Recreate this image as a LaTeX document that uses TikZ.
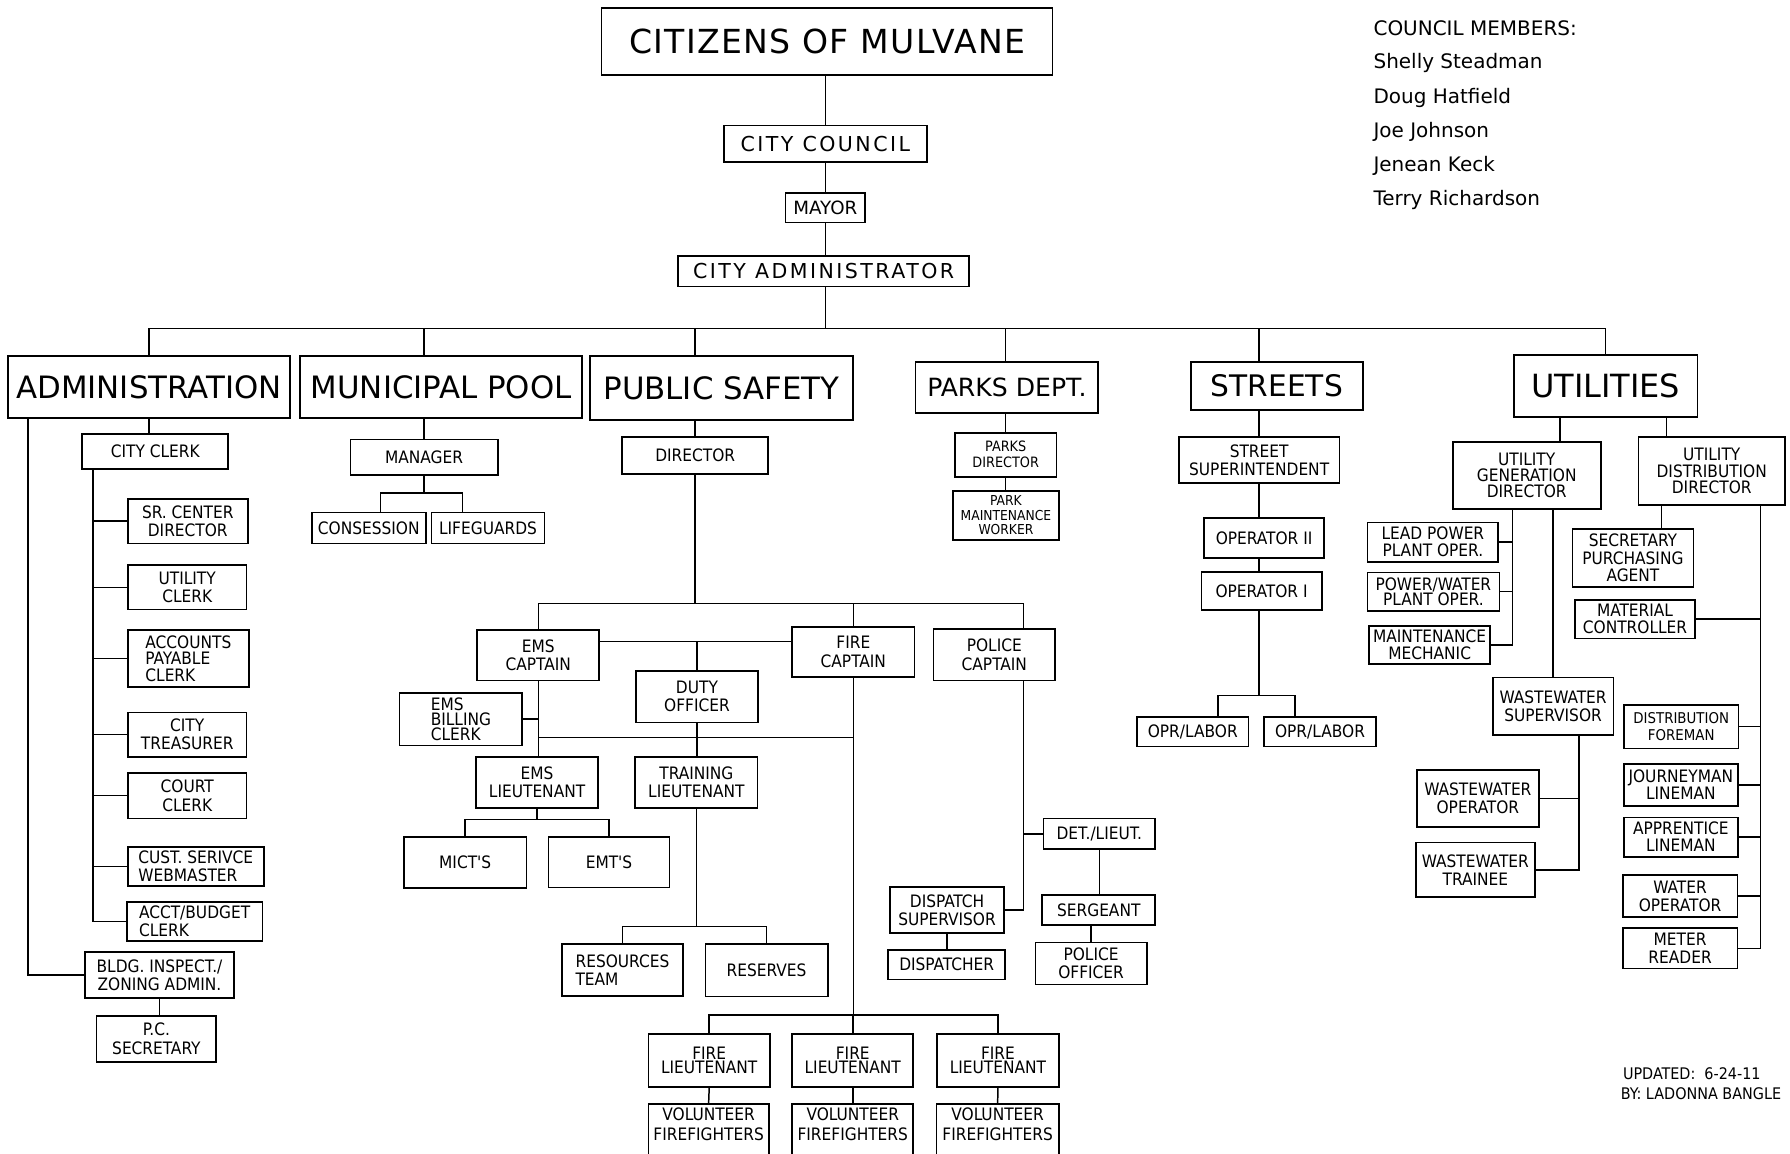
\documentclass[tikz,border=0pt]{standalone}
\usepackage{fontspec}
\setmainfont{DejaVu Sans}
\newfontfamily\narrowfont{DejaVu Sans Condensed}
\usepackage{tikz}

\begin{document}
\begin{tikzpicture}[x=1pt, y=-1pt,
        box/.style={draw, line width=1.5pt, inner sep=0pt, align=center},
        dept/.style={box, font=\fontsize{27}{30}\selectfont},
        head/.style={box, font=\fontsize{18}{20}\selectfont\addfontfeatures{LetterSpace=12}},
        job/.style={box, font=\narrowfont\fontsize{15}{16}\selectfont},
        tight/.style={font=\narrowfont\fontsize{15}{#1}\selectfont},
        link/.style={line width=1.3pt},
        note/.style={inner sep=0pt, anchor=west}]
    \useasboundingbox (0,0) rectangle (1568,1010);

    % top of the chart
    \node[box, font=\fontsize{29}{32}\selectfont\addfontfeatures{LetterSpace=4}, minimum width=395, minimum height=59] (citizens) at (724.5,36.5) {CITIZENS OF MULVANE};
    \node[head, minimum width=178, minimum height=32] (council) at (723,126) {CITY COUNCIL};
    \node[head, font=\fontsize{16}{18}\selectfont, minimum width=70, minimum height=26] (mayor) at (723,182) {MAYOR};
    \node[head, minimum width=255, minimum height=27] (cityadmin) at (721.5,237.5) {CITY ADMINISTRATOR};

    \node[note, font=\fontsize{17.5}{20}\selectfont] (members) at (1203,24.8) {COUNCIL MEMBERS:};
    \foreach \who [count=\i] in {Shelly Steadman, Doug Hatfield, Joe Johnson, Jenean Keck, Terry Richardson}
        \node[note, font=\fontsize{17.5}{20}\selectfont] (member\i) at (1203,25.5+30*\i) {\who};

    % departments
    \node[dept, minimum width=247, minimum height=54] (admin) at (130.5,339) {ADMINISTRATION};
    \node[dept, minimum width=247, minimum height=54] (pool) at (386.5,339) {MUNICIPAL POOL};
    \node[dept, minimum width=230, minimum height=56] (safety) at (632,340) {PUBLIC SAFETY};
    \node[dept, font=\fontsize{22}{24}\selectfont, minimum width=160, minimum height=45] (parks) at (882,339.5) {PARKS DEPT.};
    \node[dept, font=\fontsize{26}{28}\selectfont, minimum width=151, minimum height=42] (streets) at (1118.5,338) {STREETS};
    \node[dept, font=\fontsize{28}{30}\selectfont, minimum width=161, minimum height=54] (utilities) at (1406.5,338) {UTILITIES};

    % administration
    \node[job, minimum width=128, minimum height=31] (cityclerk) at (136,395.5) {CITY CLERK};
    \node[job, minimum width=105, minimum height=39] (srcenter) at (164.5,456.5) {SR. CENTER\\DIRECTOR};
    \node[job, minimum width=104, minimum height=39] (utilclerk) at (164,514.5) {UTILITY\\CLERK};
    \node[job, tight=14.6, align=left, minimum width=106, minimum height=50] (acctpay) at (165,577) {ACCOUNTS\\PAYABLE\\CLERK};
    \node[job, minimum width=104, minimum height=39] (treasurer) at (164,643.5) {CITY\\TREASURER};
    \node[job, minimum width=104, minimum height=40] (courtclerk) at (164,697) {COURT\\CLERK};
    \node[job, align=left, minimum width=119, minimum height=34] (custserv) at (171.5,759) {CUST. SERIVCE\\WEBMASTER};
    \node[job, align=left, minimum width=119, minimum height=34] (acctbudget) at (170.5,807) {ACCT/BUDGET\\CLERK};
    \node[job, minimum width=130.5, minimum height=40.5] (bldg) at (139.75,854.25) {BLDG. INSPECT./\\ZONING ADMIN.};
    \node[job, minimum width=105, minimum height=40] (pcsec) at (137,910) {P.C.\\SECRETARY};

    % municipal pool
    \node[job, minimum width=129, minimum height=31] (manager) at (371.5,400.5) {MANAGER};
    \node[job, minimum width=100, minimum height=27] (consession) at (323,462.5) {CONSESSION};
    \node[job, minimum width=99, minimum height=27] (lifeguards) at (427.5,462.5) {LIFEGUARDS};

    % public safety
    \node[job, minimum width=128, minimum height=32] (director) at (609,399) {DIRECTOR};
    \node[job, minimum width=107, minimum height=44] (emscapt) at (471.5,574) {EMS\\CAPTAIN};
    \node[job, minimum width=107, minimum height=44] (firecapt) at (747.5,571) {FIRE\\CAPTAIN};
    \node[job, minimum width=106.5, minimum height=45] (policecapt) at (871,573.5) {POLICE\\CAPTAIN};
    \node[job, minimum width=107, minimum height=45.5] (dutyoff) at (610.5,610.25) {DUTY\\OFFICER};
    \node[job, tight=13, align=left, minimum width=107.5, minimum height=46] (billing) at (403.75,630) {EMS\\BILLING\\CLERK};
    \node[job, minimum width=107, minimum height=44.5] (emslt) at (470.5,685.25) {EMS\\LIEUTENANT};
    \node[job, minimum width=107, minimum height=44.5] (trainlt) at (610,685.25) {TRAINING\\LIEUTENANT};
    \node[job, minimum width=107.6, minimum height=45] (mict) at (407.5,755.5) {MICT'S};
    \node[job, minimum width=106, minimum height=44.3] (emt) at (533.5,755.2) {EMT'S};
    \node[job, align=left, minimum width=106.5, minimum height=45.5] (resteam) at (545.25,849.75) {RESOURCES\\TEAM};
    \node[job, minimum width=107, minimum height=46] (reserves) at (671.5,850) {RESERVES};
    \node[job, tight=12, minimum width=106.5, minimum height=46] (firelt1) at (621.25,929) {FIRE\\LIEUTENANT};
    \node[job, tight=12, minimum width=106, minimum height=46] (firelt2) at (747,929) {FIRE\\LIEUTENANT};
    \node[job, tight=12, minimum width=106.4, minimum height=46] (firelt3) at (874.2,929) {FIRE\\LIEUTENANT};
    \node[job, tight=17.5, minimum width=105.5, minimum height=53] (vol1) at (620.75,993.5) {VOLUNTEER\\FIREFIGHTERS\\\mbox{}};
    \node[job, tight=17.5, minimum width=106, minimum height=53] (vol2) at (747,993.5) {VOLUNTEER\\FIREFIGHTERS\\\mbox{}};
    \node[job, tight=17.5, minimum width=107, minimum height=53] (vol3) at (873.9,993.5) {VOLUNTEER\\FIREFIGHTERS\\\mbox{}};
    \node[job, minimum width=98, minimum height=27] (detlt) at (963,730.5) {DET./LIEUT.};
    \node[job, minimum width=100, minimum height=39.8] (dispsup) at (829.6,797.1) {DISPATCH\\SUPERVISOR};
    \node[job, minimum width=102.5, minimum height=26] (dispatcher) at (829.25,845) {DISPATCHER};
    \node[job, minimum width=99, minimum height=26.2] (sergeant) at (962.5,797.1) {SERGEANT};
    \node[job, minimum width=97.5, minimum height=36.8] (policeoff) at (955.75,844.1) {POLICE\\OFFICER};

    % parks
    \node[job, font=\narrowfont\fontsize{12.5}{14}\selectfont, minimum width=89, minimum height=38.6] (parksdir) at (881,398.3) {PARKS\\DIRECTOR};
    \node[job, font=\narrowfont\fontsize{12}{12.7}\selectfont, minimum width=92.3, minimum height=43] (parkworker) at (881.2,451.5) {PARK\\MAINTENANCE\\WORKER};

    % streets
    \node[job, minimum width=140.7, minimum height=40.4] (stsuper) at (1103,403.2) {STREET\\SUPERINTENDENT};
    \node[job, minimum width=105.4, minimum height=34.5] (op2) at (1107.3,471.25) {OPERATOR II};
    \node[job, minimum width=105.4, minimum height=33.6] (op1) at (1105.1,517.6) {OPERATOR I};
    \node[job, minimum width=97.7, minimum height=26.2] (opr1) at (1044.85,640.9) {OPR/LABOR};
    \node[job, minimum width=98.6, minimum height=26.2] (opr2) at (1156.3,640.9) {OPR/LABOR};

    % utilities
    \node[job, tight=14.3, minimum width=129.7, minimum height=59] (gendir) at (1337.35,416.5) {UTILITY\\GENERATION\\DIRECTOR};
    \node[job, tight=14.3, minimum width=128.5, minimum height=59.4] (distdir) at (1499.45,412.7) {UTILITY\\DISTRIBUTION\\DIRECTOR};
    \node[job, tight=14.6, minimum width=114.7, minimum height=34.4] (leadpower) at (1255.15,474.8) {LEAD POWER\\PLANT OPER.};
    \node[job, tight=11.7, minimum width=115.6, minimum height=33.9] (powerwater) at (1255.6,518.35) {POWER/WATER\\PLANT OPER.};
    \node[job, tight=14.6, minimum width=105.7, minimum height=33.6] (maintmech) at (1252.35,564.9) {MAINTENANCE\\MECHANIC};
    \node[job, minimum width=105.7, minimum height=50.5] (wwsup) at (1360.45,618.65) {WASTEWATER\\SUPERVISOR};
    \node[job, minimum width=107.2, minimum height=50] (wwop) at (1294.6,699.5) {WASTEWATER\\OPERATOR};
    \node[job, minimum width=104.6, minimum height=48] (wwtrainee) at (1292.4,762) {WASTEWATER\\TRAINEE};
    \node[job, tight=15.5, minimum width=106, minimum height=50.6] (secpurch) at (1430.4,488.7) {SECRETARY\\PURCHASING\\AGENT};
    \node[job, tight=15, minimum width=105.1, minimum height=33.6] (matctrl) at (1432.25,542.4) {MATERIAL\\CONTROLLER};
    \node[job, font=\narrowfont\fontsize{13}{15}\selectfont, minimum width=100.2, minimum height=38] (distforeman) at (1472.7,636.6) {DISTRIBUTION\\FOREMAN};
    \node[job, tight=15, minimum width=99.6, minimum height=36.8] (journeyman) at (1472.4,687.7) {JOURNEYMAN\\LINEMAN};
    \node[job, tight=15, minimum width=99.6, minimum height=34.5] (apprentice) at (1472.4,733.25) {APPRENTICE\\LINEMAN};
    \node[job, minimum width=100.4, minimum height=37.1] (wateroper) at (1471.7,785) {WATER\\OPERATOR};
    \node[job, minimum width=100.4, minimum height=35.1] (meter) at (1471.7,830.75) {METER\\READER};

    \node[note, font=\narrowfont\fontsize{14}{16}\selectfont] (updated) at (1421.5,940.3) {UPDATED:\ \ 6-24-11};
    \node[note, font=\narrowfont\fontsize{14}{16}\selectfont] (updatedby) at (1419.7,958.4) {BY: LADONNA BANGLE};

    % chain of command
    \draw[link] (citizens.south -| council) -- (council.north);
    \draw[link] (council.south) -- (mayor.north);
    \draw[link] (mayor.south) -- (mayor.south |- cityadmin.north);
    \coordinate (topbus) at (723,287.6);
    \draw[link] (cityadmin.south -| mayor) -- (topbus);
    \draw[link] (admin |- topbus) -- (utilities |- topbus);
    \foreach \d/\c in {admin/admin, pool/manager, safety/director, parks/parksdir, streets/stsuper, utilities/utilities}
        \draw[link] (\c |- topbus) -- (\d.north -| \c);

    \draw[link] (admin.south) -- (admin.south |- cityclerk.north);
    \draw[link] (pool.south -| manager) -- (manager.north);
    \draw[link] (safety.south -| director) -- (director.north);
    \draw[link] (parks.south -| parksdir) -- (parksdir.north);
    \draw[link] (parksdir.south) -- (parkworker.north -| parksdir);
    \draw[link] (streets.south -| stsuper) -- (stsuper.north);

    % administration lines
    \coordinate (clerkline) at ([xshift=-54.5]cityclerk.south);
    \draw[link] (clerkline) |- (acctbudget.west);
    \foreach \n in {srcenter,utilclerk,acctpay,treasurer,courtclerk,custserv}
        \draw[link] (\n.west -| clerkline) -- (\n.west);
    \coordinate (adminline) at ([xshift=-106]admin.south);
    \draw[link] (adminline) |- (bldg.west);
    \draw[link] (bldg.south) -- (bldg.south |- pcsec.north);

    % pool lines
    \coordinate (poolfork) at ([yshift=-15]manager.south);
    \coordinate (consdrop) at ([xshift=10.5]consession.north);
    \coordinate (lifedrop) at ([xshift=-22.5]lifeguards.north);
    \draw[link] (manager.south) -- (poolfork);
    \draw[link] (consdrop) |- (poolfork) -| (lifedrop);

    % public safety lines
    \coordinate (psbus) at ([yshift=-113]director.south);
    \coordinate (poldrop) at ([xshift=25.4]policecapt.north);
    \draw[link] (director.south) -- (psbus);
    \draw[link] (emscapt.north) |- (psbus) -| (poldrop);
    \draw[link] (firecapt.north |- psbus) -- (firecapt.north);
    \coordinate (captline) at ([yshift=12]emscapt.east);
    \draw[link] (captline) -- (captline -| firecapt.west);
    \draw[link] (dutyoff.north |- captline) -- (dutyoff.north);
    \draw[link] (emscapt.south) -- (emscapt.south |- emslt.north);
    \draw[link] (billing.east) -- (billing.east -| emscapt.south);
    \coordinate (ltline) at ([yshift=-12.3]dutyoff.south);
    \draw[link] (ltline -| emscapt) -- (ltline -| firecapt);
    \draw[link] (dutyoff.south) -- (trainlt.north -| dutyoff);

    \coordinate (emsfork) at ([yshift=-9.5]emslt.south);
    \draw[link] (emslt.south) -- (emsfork);
    \draw[link] (mict.north) |- (emsfork) -| (emt.north);
    \coordinate (resfork) at ([yshift=-103.5]trainlt.south);
    \draw[link] (trainlt.south) -- (resfork);
    \draw[link] (resteam.north) |- (resfork) -| (reserves.north);

    \coordinate (firebus) at ([yshift=16]firelt2.north);
    \draw[link] (firecapt.south) -- (firecapt.south |- firebus);
    \draw[link] (firelt1.north) |- (firebus) -| (firelt3.north);
    \draw[link] (firebus) -- (firelt2.north);
    \foreach \i in {1,2,3}
        \draw[link] (firelt\i.south) -- (vol\i.north);

    \draw[link] (poldrop |- policecapt.south) |- (dispsup.east);
    \draw[link] (detlt.west) -- (detlt.west -| poldrop);
    \draw[link] (dispsup.south) -- (dispatcher.north -| dispsup);
    \draw[link] (detlt.south) -- (sergeant.north -| detlt);
    \draw[link] (sergeant.south -| policeoff) -- (policeoff.north);

    % streets lines
    \draw[link] (stsuper.south) -- (op2.north -| stsuper);
    \draw[link] (op2.south -| stsuper) -- (op1.north -| stsuper);
    \coordinate (streetfork) at (1103,609.4);
    \coordinate (opr1drop) at ([xshift=22]opr1.north);
    \coordinate (opr2drop) at ([xshift=-22]opr2.north);
    \draw[link] (op1.south -| stsuper) -- (streetfork);
    \draw[link] (opr1drop) |- (streetfork) -| (opr2drop);

    % utilities lines
    \coordinate (gendrop) at ([xshift=29.3]gendir.north);
    \coordinate (distdrop) at ([xshift=-39.5]distdir.north);
    \draw[link] (utilities.south -| gendrop) -- (gendrop);
    \draw[link] (utilities.south -| distdrop) -- (distdrop);
    \coordinate (genline) at ([xshift=-12.25]gendir.south);
    \draw[link] (genline) |- (maintmech.east);
    \foreach \n in {leadpower,powerwater}
        \draw[link] (\n.east) -- (\n.east -| genline);
    \draw[link] (gendir.south -| wwsup) -- (wwsup.north);
    \coordinate (wwline) at ([xshift=22.75]wwsup.south);
    \draw[link] (wwline) |- (wwtrainee.east);
    \draw[link] (wwop.east) -- (wwop.east -| wwline);
    \coordinate (secdrop) at ([xshift=-43.85]distdir.south);
    \draw[link] (secdrop) -- (secdrop |- secpurch.north);
    \coordinate (distline) at ([xshift=42.6]distdir.south);
    \draw[link] (distline) |- (meter.east);
    \foreach \n in {matctrl,distforeman,journeyman,apprentice,wateroper}
        \draw[link] (\n.east) -- (\n.east -| distline);
\end{tikzpicture}
\end{document}
